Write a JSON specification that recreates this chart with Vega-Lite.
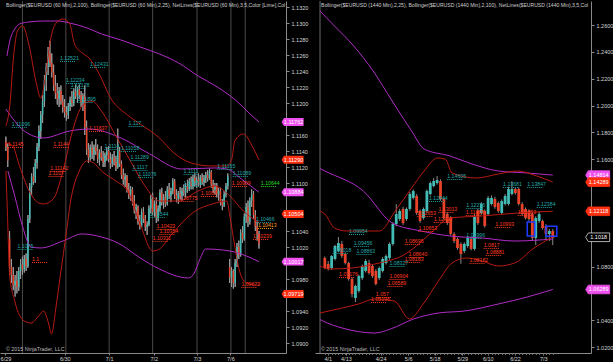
{
"$schema":"https://vega.github.io/schema/vega-lite/v6.json",
"padding":0,
"background":"#000000",
"spacing":29,
"bounds":"flush",
"config":{"view":{"stroke":null},"axis":{"labelColor":"#d6d6d6","labelFont":"Liberation Sans","labelFontSize":5.5,"domainColor":"#8a8a8a","tickColor":"#8a8a8a","grid":false},"text":{"font":"Liberation Sans"}},
"datasets":{
"L":[
{"t":0,"o":1.1152,"h":1.1158,"l":1.114,"c":1.1145},{"t":1,"o":1.1145,"h":1.115,"l":1.112,"c":1.1128},{"t":2,"o":1.103,"h":1.104,"l":1.0985,"c":1.0995},{"t":3,"o":1.0995,"h":1.1005,"l":1.0975,"c":1.0985},{"t":4,"o":1.0985,"h":1.0995,"l":1.0966,"c":1.0972},{"t":5,"o":1.0972,"h":1.0985,"l":1.0958,"c":1.0978},{"t":6,"o":1.0978,"h":1.099,"l":1.0962,"c":1.097},{"t":7,"o":1.097,"h":1.0995,"l":1.0965,"c":1.099},{"t":8,"o":1.099,"h":1.1005,"l":1.098,"c":1.0998},{"t":9,"o":1.0998,"h":1.1008,"l":1.0985,"c":1.0992},
{"t":10,"o":1.0992,"h":1.101,"l":1.0988,"c":1.1005},{"t":11,"o":1.1005,"h":1.1012,"l":1.099,"c":1.0996},{"t":12,"o":1.0996,"h":1.106,"l":1.0994,"c":1.1055},{"t":13,"o":1.1055,"h":1.11,"l":1.105,"c":1.1095},{"t":14,"o":1.1095,"h":1.1112,"l":1.1085,"c":1.1108},{"t":15,"o":1.1108,"h":1.112,"l":1.1098,"c":1.1102},{"t":16,"o":1.1102,"h":1.113,"l":1.11,"c":1.1125},{"t":17,"o":1.1125,"h":1.115,"l":1.1118,"c":1.1145},{"t":18,"o":1.1145,"h":1.1172,"l":1.114,"c":1.1165},{"t":19,"o":1.1165,"h":1.119,"l":1.1155,"c":1.1185},
{"t":20,"o":1.1185,"h":1.121,"l":1.1175,"c":1.1202},{"t":21,"o":1.1202,"h":1.1235,"l":1.1195,"c":1.1228},{"t":22,"o":1.1228,"h":1.125,"l":1.1215,"c":1.1245},{"t":23,"o":1.1245,"h":1.127,"l":1.1235,"c":1.1262},{"t":24,"o":1.1262,"h":1.1278,"l":1.1245,"c":1.125},{"t":25,"o":1.125,"h":1.1262,"l":1.1232,"c":1.1238},{"t":26,"o":1.1238,"h":1.1248,"l":1.1215,"c":1.1222},{"t":27,"o":1.1222,"h":1.1235,"l":1.1205,"c":1.1212},{"t":28,"o":1.1212,"h":1.1225,"l":1.1198,"c":1.1205},{"t":29,"o":1.1205,"h":1.122,"l":1.1195,"c":1.1215},
{"t":30,"o":1.1215,"h":1.1222,"l":1.1198,"c":1.1202},{"t":31,"o":1.1202,"h":1.121,"l":1.1188,"c":1.1195},{"t":32,"o":1.1195,"h":1.1205,"l":1.1182,"c":1.1188},{"t":33,"o":1.1188,"h":1.1196,"l":1.1178,"c":1.1185},{"t":34,"o":1.1185,"h":1.12,"l":1.118,"c":1.1196},{"t":35,"o":1.1196,"h":1.1208,"l":1.119,"c":1.1204},{"t":36,"o":1.1204,"h":1.1215,"l":1.1195,"c":1.12},{"t":37,"o":1.12,"h":1.1218,"l":1.1196,"c":1.1214},{"t":38,"o":1.1214,"h":1.1223,"l":1.1205,"c":1.1208},{"t":39,"o":1.1208,"h":1.122,"l":1.12,"c":1.1217},
{"t":40,"o":1.1217,"h":1.1223,"l":1.1205,"c":1.121},{"t":41,"o":1.121,"h":1.1215,"l":1.1195,"c":1.12},{"t":42,"o":1.12,"h":1.1212,"l":1.119,"c":1.1208},{"t":43,"o":1.1208,"h":1.1222,"l":1.116,"c":1.117},{"t":44,"o":1.117,"h":1.1178,"l":1.1135,"c":1.1142},{"t":45,"o":1.1142,"h":1.115,"l":1.1125,"c":1.1132},{"t":46,"o":1.1132,"h":1.1148,"l":1.1128,"c":1.1144},{"t":47,"o":1.1144,"h":1.1152,"l":1.113,"c":1.1136},{"t":48,"o":1.1136,"h":1.1148,"l":1.1128,"c":1.1145},{"t":49,"o":1.1145,"h":1.1155,"l":1.1135,"c":1.114},
{"t":50,"o":1.114,"h":1.1148,"l":1.1125,"c":1.113},{"t":51,"o":1.113,"h":1.1142,"l":1.1122,"c":1.1138},{"t":52,"o":1.1138,"h":1.1146,"l":1.1128,"c":1.1132},{"t":53,"o":1.1132,"h":1.114,"l":1.112,"c":1.1126},{"t":54,"o":1.1126,"h":1.1138,"l":1.112,"c":1.1135},{"t":55,"o":1.1135,"h":1.1145,"l":1.1128,"c":1.114},{"t":56,"o":1.114,"h":1.1146,"l":1.1126,"c":1.113},{"t":57,"o":1.113,"h":1.1138,"l":1.1118,"c":1.1124},{"t":58,"o":1.1124,"h":1.1136,"l":1.112,"c":1.1132},{"t":59,"o":1.1132,"h":1.114,"l":1.1122,"c":1.1126},
{"t":60,"o":1.1126,"h":1.1134,"l":1.1115,"c":1.112},{"t":61,"o":1.112,"h":1.1168,"l":1.1118,"c":1.114},{"t":62,"o":1.114,"h":1.1145,"l":1.112,"c":1.1124},{"t":63,"o":1.1124,"h":1.1128,"l":1.1105,"c":1.111},{"t":64,"o":1.111,"h":1.1118,"l":1.1098,"c":1.1104},{"t":65,"o":1.1104,"h":1.1112,"l":1.1095,"c":1.1108},{"t":66,"o":1.1108,"h":1.111,"l":1.1088,"c":1.1092},{"t":67,"o":1.1092,"h":1.11,"l":1.108,"c":1.1086},{"t":68,"o":1.1086,"h":1.1096,"l":1.1078,"c":1.1092},{"t":69,"o":1.1092,"h":1.1095,"l":1.1072,"c":1.1078},
{"t":70,"o":1.1078,"h":1.1085,"l":1.1062,"c":1.1066},{"t":71,"o":1.1066,"h":1.1074,"l":1.1055,"c":1.107},{"t":72,"o":1.107,"h":1.1072,"l":1.1048,"c":1.1052},{"t":73,"o":1.1052,"h":1.106,"l":1.1042,"c":1.1046},{"t":74,"o":1.1046,"h":1.1068,"l":1.1044,"c":1.1064},{"t":75,"o":1.1064,"h":1.107,"l":1.105,"c":1.1055},{"t":76,"o":1.1055,"h":1.106,"l":1.104,"c":1.1045},{"t":77,"o":1.1045,"h":1.1052,"l":1.1035,"c":1.1048},{"t":78,"o":1.1048,"h":1.1072,"l":1.1046,"c":1.1068},{"t":79,"o":1.1068,"h":1.1085,"l":1.1062,"c":1.108},
{"t":80,"o":1.108,"h":1.1088,"l":1.106,"c":1.1064},{"t":81,"o":1.1064,"h":1.1078,"l":1.1058,"c":1.1074},{"t":82,"o":1.1074,"h":1.1082,"l":1.105,"c":1.1056},{"t":83,"o":1.1056,"h":1.1072,"l":1.1052,"c":1.1068},{"t":84,"o":1.1068,"h":1.1092,"l":1.1064,"c":1.1088},{"t":85,"o":1.1088,"h":1.1094,"l":1.1072,"c":1.1076},{"t":86,"o":1.1076,"h":1.1086,"l":1.1068,"c":1.1082},{"t":87,"o":1.1082,"h":1.109,"l":1.107,"c":1.1074},{"t":88,"o":1.1074,"h":1.1096,"l":1.1072,"c":1.1092},{"t":89,"o":1.1092,"h":1.11,"l":1.108,"c":1.1084},
{"t":90,"o":1.1084,"h":1.1094,"l":1.1076,"c":1.109},{"t":91,"o":1.109,"h":1.1106,"l":1.1086,"c":1.1102},{"t":92,"o":1.1102,"h":1.1105,"l":1.108,"c":1.1085},{"t":93,"o":1.1085,"h":1.1092,"l":1.1076,"c":1.108},{"t":94,"o":1.108,"h":1.109,"l":1.1074,"c":1.1087},{"t":95,"o":1.1087,"h":1.1095,"l":1.108,"c":1.1084},{"t":96,"o":1.1084,"h":1.1094,"l":1.1078,"c":1.109},{"t":97,"o":1.109,"h":1.1098,"l":1.1084,"c":1.1088},{"t":98,"o":1.1088,"h":1.11,"l":1.1082,"c":1.1096},{"t":99,"o":1.1096,"h":1.1104,"l":1.1088,"c":1.1092},
{"t":100,"o":1.1092,"h":1.1106,"l":1.109,"c":1.1102},{"t":101,"o":1.1102,"h":1.1108,"l":1.1092,"c":1.1096},{"t":102,"o":1.1096,"h":1.111,"l":1.1092,"c":1.1106},{"t":103,"o":1.1106,"h":1.1112,"l":1.1096,"c":1.11},{"t":104,"o":1.11,"h":1.1108,"l":1.1094,"c":1.1104},{"t":105,"o":1.1104,"h":1.1112,"l":1.1096,"c":1.1098},{"t":106,"o":1.1098,"h":1.111,"l":1.1094,"c":1.1107},{"t":107,"o":1.1107,"h":1.1112,"l":1.1098,"c":1.1101},{"t":108,"o":1.1101,"h":1.111,"l":1.1096,"c":1.1106},{"t":109,"o":1.1106,"h":1.1114,"l":1.11,"c":1.111},
{"t":110,"o":1.111,"h":1.1116,"l":1.1102,"c":1.1106},{"t":111,"o":1.1106,"h":1.1118,"l":1.1104,"c":1.1114},{"t":112,"o":1.1114,"h":1.1116,"l":1.1094,"c":1.1098},{"t":113,"o":1.1098,"h":1.1104,"l":1.1088,"c":1.1092},{"t":114,"o":1.1092,"h":1.11,"l":1.1086,"c":1.1096},{"t":115,"o":1.1096,"h":1.11,"l":1.1082,"c":1.1086},{"t":116,"o":1.1086,"h":1.1094,"l":1.1078,"c":1.109},{"t":117,"o":1.109,"h":1.1094,"l":1.1072,"c":1.1076},{"t":118,"o":1.1076,"h":1.108,"l":1.1066,"c":1.1072},{"t":119,"o":1.1072,"h":1.109,"l":1.107,"c":1.1086},
{"t":120,"o":1.1086,"h":1.11,"l":1.1082,"c":1.1096},{"t":121,"o":1.1096,"h":1.1112,"l":1.1092,"c":1.1108},{"t":122,"o":1.0995,"h":1.1005,"l":1.0975,"c":1.0982},{"t":123,"o":1.0982,"h":1.0995,"l":1.097,"c":1.099},{"t":124,"o":1.099,"h":1.0992,"l":1.0968,"c":1.0975},{"t":125,"o":1.0975,"h":1.1005,"l":1.097,"c":1.1},{"t":126,"o":1.1,"h":1.1025,"l":1.0995,"c":1.102},{"t":127,"o":1.102,"h":1.1028,"l":1.1005,"c":1.101},{"t":128,"o":1.101,"h":1.1042,"l":1.1008,"c":1.1038},{"t":129,"o":1.1038,"h":1.1046,"l":1.1025,"c":1.103},
{"t":130,"o":1.103,"h":1.1062,"l":1.1028,"c":1.1058},{"t":131,"o":1.1058,"h":1.1075,"l":1.105,"c":1.107},{"t":132,"o":1.107,"h":1.1078,"l":1.1045,"c":1.1052},{"t":133,"o":1.1052,"h":1.1082,"l":1.1048,"c":1.1078},{"t":134,"o":1.1078,"h":1.1092,"l":1.107,"c":1.1086},{"t":135,"o":1.1086,"h":1.109,"l":1.1055,"c":1.106},{"t":136,"o":1.106,"h":1.1066,"l":1.104,"c":1.1046},{"t":137,"o":1.1046,"h":1.1052,"l":1.1028,"c":1.1036},{"t":138,"o":1.1036,"h":1.104,"l":1.1018,"c":1.1024}
],
"R":[
{"t":0,"o":1.0864,"h":1.0875,"l":1.078,"c":1.0789},{"t":1,"o":1.0819,"h":1.084,"l":1.077,"c":1.0781},{"t":2,"o":1.0789,"h":1.0885,"l":1.0775,"c":1.0878},{"t":3,"o":1.0856,"h":1.0962,"l":1.0845,"c":1.0953},{"t":4,"o":1.0916,"h":1.102,"l":1.0905,"c":1.0975},{"t":5,"o":1.0968,"h":1.099,"l":1.0865,"c":1.0878},{"t":6,"o":1.0893,"h":1.0905,"l":1.0815,"c":1.0826},{"t":7,"o":1.0826,"h":1.0835,"l":1.0695,"c":1.0707},{"t":8,"o":1.0707,"h":1.072,"l":1.057,"c":1.0595},{"t":9,"o":1.0565,"h":1.0665,"l":1.0535,"c":1.0655},
{"t":10,"o":1.0618,"h":1.074,"l":1.0605,"c":1.0729},{"t":11,"o":1.0714,"h":1.0815,"l":1.07,"c":1.0804},{"t":12,"o":1.0767,"h":1.0855,"l":1.0755,"c":1.0841},{"t":13,"o":1.0826,"h":1.085,"l":1.074,"c":1.0752},{"t":14,"o":1.0804,"h":1.0815,"l":1.0715,"c":1.0729},{"t":15,"o":1.0767,"h":1.078,"l":1.066,"c":1.067},{"t":16,"o":1.0714,"h":1.08,"l":1.07,"c":1.0789},{"t":17,"o":1.0767,"h":1.087,"l":1.0755,"c":1.0856},{"t":18,"o":1.0826,"h":1.089,"l":1.0815,"c":1.0878},{"t":19,"o":1.0864,"h":1.098,"l":1.085,"c":1.0968},
{"t":20,"o":1.0968,"h":1.113,"l":1.0955,"c":1.1117},{"t":21,"o":1.1117,"h":1.1265,"l":1.11,"c":1.1191},{"t":22,"o":1.1154,"h":1.123,"l":1.114,"c":1.1214},{"t":23,"o":1.1229,"h":1.1245,"l":1.111,"c":1.1124},{"t":24,"o":1.1154,"h":1.124,"l":1.114,"c":1.1229},{"t":25,"o":1.1229,"h":1.1355,"l":1.1215,"c":1.134},{"t":26,"o":1.1311,"h":1.1375,"l":1.13,"c":1.1363},{"t":27,"o":1.1326,"h":1.134,"l":1.1185,"c":1.1199},{"t":28,"o":1.1214,"h":1.1225,"l":1.1125,"c":1.1139},{"t":29,"o":1.1162,"h":1.124,"l":1.115,"c":1.1229},
{"t":30,"o":1.1214,"h":1.1375,"l":1.12,"c":1.1363},{"t":31,"o":1.134,"h":1.1435,"l":1.133,"c":1.1422},{"t":32,"o":1.14,"h":1.146,"l":1.139,"c":1.1437},{"t":33,"o":1.1422,"h":1.1475,"l":1.141,"c":1.1445},{"t":34,"o":1.1437,"h":1.145,"l":1.129,"c":1.1303},{"t":35,"o":1.1303,"h":1.1315,"l":1.115,"c":1.1162},{"t":36,"o":1.1191,"h":1.1205,"l":1.111,"c":1.1124},{"t":37,"o":1.1162,"h":1.1175,"l":1.103,"c":1.1042},{"t":38,"o":1.1042,"h":1.1055,"l":1.0975,"c":1.099},{"t":39,"o":1.1005,"h":1.1015,"l":1.0925,"c":1.0938},
{"t":40,"o":1.0968,"h":1.098,"l":1.082,"c":1.0893},{"t":41,"o":1.0916,"h":1.098,"l":1.09,"c":1.0968},{"t":42,"o":1.0953,"h":1.1025,"l":1.094,"c":1.1013},{"t":43,"o":1.1005,"h":1.102,"l":1.092,"c":1.0931},{"t":44,"o":1.0931,"h":1.119,"l":1.092,"c":1.1176},{"t":45,"o":1.1214,"h":1.123,"l":1.111,"c":1.1124},{"t":46,"o":1.1199,"h":1.128,"l":1.1185,"c":1.1266},{"t":47,"o":1.1214,"h":1.1225,"l":1.109,"c":1.1102},{"t":48,"o":1.1191,"h":1.1325,"l":1.118,"c":1.1311},{"t":49,"o":1.1266,"h":1.133,"l":1.1255,"c":1.1311},
{"t":50,"o":1.1303,"h":1.132,"l":1.123,"c":1.1244},{"t":51,"o":1.1273,"h":1.1285,"l":1.12,"c":1.1214},{"t":52,"o":1.1199,"h":1.13,"l":1.1185,"c":1.1288},{"t":53,"o":1.1266,"h":1.134,"l":1.1255,"c":1.1326},{"t":54,"o":1.1266,"h":1.1395,"l":1.1255,"c":1.1378},{"t":55,"o":1.134,"h":1.1435,"l":1.133,"c":1.1378},{"t":56,"o":1.1378,"h":1.139,"l":1.1335,"c":1.1348},{"t":57,"o":1.1378,"h":1.139,"l":1.1255,"c":1.1266},{"t":58,"o":1.1266,"h":1.128,"l":1.118,"c":1.1191},{"t":59,"o":1.1229,"h":1.124,"l":1.115,"c":1.1162},
{"t":60,"o":1.1214,"h":1.1225,"l":1.114,"c":1.1154},{"t":61,"o":1.1191,"h":1.1205,"l":1.099,"c":1.1013},{"t":62,"o":1.1013,"h":1.1175,"l":1.096,"c":1.1162},{"t":63,"o":1.1139,"h":1.121,"l":1.1125,"c":1.1191},{"t":64,"o":1.1139,"h":1.115,"l":1.1075,"c":1.1087},{"t":65,"o":1.1102,"h":1.1115,"l":1.1,"c":1.1042},{"t":66,"o":1.1042,"h":1.108,"l":1.099,"c":1.1065},{"t":67,"o":1.1065,"h":1.108,"l":1.096,"c":1.1013}
],
"LB":[
{"b":"pu","t":0.55,"v":1.12588},{"b":"pu","t":2.1,"v":1.12775},{"b":"pu","t":4.8,"v":1.12925},{"b":"pu","t":7.4,"v":1.12988},{"b":"pu","t":12.7,"v":1.13013},{"b":"pu","t":20.5,"v":1.13025},{"b":"pu","t":28.4,"v":1.13025},{"b":"pu","t":34.8,"v":1.13},{"b":"pu","t":44.2,"v":1.12938},{"b":"pu","t":52.1,"v":1.12863},{"b":"pu","t":62.7,"v":1.12788},{"b":"pu","t":73.2,"v":1.127},{"b":"pu","t":83.7,"v":1.12613},{"b":"pu","t":94.2,"v":1.125},{"b":"pu","t":104.8,"v":1.12338},{"b":"pu","t":115.3,"v":1.122},{"b":"pu","t":125.8,"v":1.12025},{"b":"pu","t":133.7,"v":1.1185},{"b":"pu","t":138,"v":1.11762},
{"b":"pm","t":0,"v":1.11925},{"b":"pm","t":10,"v":1.1165},{"b":"pm","t":20.5,"v":1.11563},{"b":"pm","t":34.8,"v":1.1165},{"b":"pm","t":45.3,"v":1.11675},{"b":"pm","t":62.7,"v":1.11563},{"b":"pm","t":78.4,"v":1.11363},{"b":"pm","t":95.8,"v":1.11175},{"b":"pm","t":113.7,"v":1.11188},{"b":"pm","t":120.5,"v":1.11175},{"b":"pm","t":128.4,"v":1.1105},{"b":"pm","t":138,"v":1.10884},
{"b":"pl","t":1.1,"v":1.1115},{"b":"pl","t":4.8,"v":1.10838},{"b":"pl","t":9,"v":1.10463},{"b":"pl","t":13.7,"v":1.102},{"b":"pl","t":19,"v":1.10188},{"b":"pl","t":31.1,"v":1.10275},{"b":"pl","t":41.6,"v":1.10363},{"b":"pl","t":52.1,"v":1.10325},{"b":"pl","t":61.1,"v":1.1025},{"b":"pl","t":73.2,"v":1.10063},{"b":"pl","t":83.7,"v":1.09925},{"b":"pl","t":99.5,"v":1.09813},{"b":"pl","t":102.7,"v":1.09875},{"b":"pl","t":105.8,"v":1.1005},{"b":"pl","t":109,"v":1.10175},{"b":"pl","t":122.1,"v":1.1015},{"b":"pl","t":131.1,"v":1.10088},{"b":"pl","t":138,"v":1.10017},
{"b":"ru","t":0,"v":1.11713},{"b":"ru","t":2.1,"v":1.11963},{"b":"ru","t":4.2,"v":1.12588},{"b":"ru","t":6.3,"v":1.129},{"b":"ru","t":9,"v":1.12963},{"b":"ru","t":12.7,"v":1.12713},{"b":"ru","t":16.3,"v":1.12275},{"b":"ru","t":19,"v":1.12063},{"b":"ru","t":21.6,"v":1.12338},{"b":"ru","t":24.2,"v":1.12775},{"b":"ru","t":27.4,"v":1.13},{"b":"ru","t":31.1,"v":1.1305},{"b":"ru","t":34.8,"v":1.12988},{"b":"ru","t":37.4,"v":1.12738},{"b":"ru","t":41.6,"v":1.12625},{"b":"ru","t":45.3,"v":1.12563},{"b":"ru","t":50.6,"v":1.12375},{"b":"ru","t":57.4,"v":1.1205},{"b":"ru","t":66.3,"v":1.1185},{"b":"ru","t":73.2,"v":1.11738},{"b":"ru","t":83.7,"v":1.11563},{"b":"ru","t":91.6,"v":1.11375},{"b":"ru","t":101.1,"v":1.1125},{"b":"ru","t":111.6,"v":1.11213},{"b":"ru","t":120.5,"v":1.11213},{"b":"ru","t":123.2,"v":1.113},{"b":"ru","t":124.8,"v":1.11525},{"b":"ru","t":129.5,"v":1.11613},{"b":"ru","t":134.8,"v":1.11438},{"b":"ru","t":138,"v":1.1129},
{"b":"rm","t":0,"v":1.115},{"b":"rm","t":3.7,"v":1.11463},{"b":"rm","t":7.4,"v":1.11213},{"b":"rm","t":12.7,"v":1.109},{"b":"rm","t":17.9,"v":1.1075},{"b":"rm","t":20.5,"v":1.10738},{"b":"rm","t":25.8,"v":1.108},{"b":"rm","t":31.1,"v":1.1115},{"b":"rm","t":36.3,"v":1.1165},{"b":"rm","t":41.6,"v":1.11963},{"b":"rm","t":46.9,"v":1.12025},{"b":"rm","t":52.1,"v":1.119},{"b":"rm","t":60,"v":1.11588},{"b":"rm","t":67.9,"v":1.11275},{"b":"rm","t":75.8,"v":1.10963},{"b":"rm","t":83.7,"v":1.10775},{"b":"rm","t":94.2,"v":1.10775},{"b":"rm","t":104.8,"v":1.109},{"b":"rm","t":113.7,"v":1.10963},{"b":"rm","t":122.1,"v":1.10838},{"b":"rm","t":129.5,"v":1.1065},{"b":"rm","t":138,"v":1.10504},
{"b":"rl","t":0,"v":1.1115},{"b":"rl","t":0.6,"v":1.10775},{"b":"rl","t":2.1,"v":1.09838},{"b":"rl","t":4.8,"v":1.09525},{"b":"rl","t":10,"v":1.09275},{"b":"rl","t":13.7,"v":1.0925},{"b":"rl","t":17.9,"v":1.09338},{"b":"rl","t":20.5,"v":1.094},{"b":"rl","t":23.2,"v":1.0925},{"b":"rl","t":24.8,"v":1.09113},{"b":"rl","t":27.4,"v":1.09463},{"b":"rl","t":30,"v":1.099},{"b":"rl","t":32.7,"v":1.10338},{"b":"rl","t":35.3,"v":1.10775},{"b":"rl","t":40,"v":1.1115},{"b":"rl","t":44.2,"v":1.11275},{"b":"rl","t":47.9,"v":1.1125},{"b":"rl","t":52.1,"v":1.1115},{"b":"rl","t":60,"v":1.11025},{"b":"rl","t":66.3,"v":1.109},{"b":"rl","t":73.2,"v":1.10488},{"b":"rl","t":80,"v":1.1015},{"b":"rl","t":83.7,"v":1.10175},{"b":"rl","t":90.6,"v":1.10363},{"b":"rl","t":103.2,"v":1.1065},{"b":"rl","t":112.7,"v":1.10738},{"b":"rl","t":120.5,"v":1.10775},{"b":"rl","t":122.1,"v":1.10588},{"b":"rl","t":124.8,"v":1.10213},{"b":"rl","t":127.4,"v":1.099},{"b":"rl","t":131.1,"v":1.0975},{"b":"rl","t":138,"v":1.09719}
],
"RB":[
{"b":"pu","t":-1.42,"v":1.27044},{"b":"pu","t":2.83,"v":1.25926},{"b":"pu","t":8.5,"v":1.24435},{"b":"pu","t":14.2,"v":1.22572},{"b":"pu","t":19.8,"v":1.20336},{"b":"pu","t":25.5,"v":1.181},{"b":"pu","t":29.2,"v":1.16758},{"b":"pu","t":36.8,"v":1.16237},{"b":"pu","t":43.3,"v":1.1564},{"b":"pu","t":51,"v":1.15119},{"b":"pu","t":59.5,"v":1.1497},{"b":"pu","t":67,"v":1.14814},
{"b":"pm","t":-1.42,"v":1.153},{"b":"pm","t":0,"v":1.15119},{"b":"pm","t":11.3,"v":1.13628},{"b":"pm","t":19.8,"v":1.11243},{"b":"pm","t":28.3,"v":1.10647},{"b":"pm","t":36.8,"v":1.10274},{"b":"pm","t":46.2,"v":1.10125},{"b":"pm","t":55.8,"v":1.09901},{"b":"pm","t":67,"v":1.1005},
{"b":"pl","t":-1.42,"v":1.0405},{"b":"pl","t":-0.57,"v":1.03938},{"b":"pl","t":5.1,"v":1.03417},{"b":"pl","t":14.7,"v":1.03044},{"b":"pl","t":19.3,"v":1.03343},{"b":"pl","t":26.1,"v":1.04088},{"b":"pl","t":33.4,"v":1.04535},{"b":"pl","t":41.1,"v":1.04684},{"b":"pl","t":51,"v":1.05206},{"b":"pl","t":59.5,"v":1.05728},{"b":"pl","t":67,"v":1.06289},
{"b":"ru","t":-1.42,"v":1.12137},{"b":"ru","t":0,"v":1.11914},{"b":"ru","t":2.83,"v":1.10871},{"b":"ru","t":6.5,"v":1.10647},{"b":"ru","t":16.1,"v":1.10647},{"b":"ru","t":20.7,"v":1.12137},{"b":"ru","t":25.5,"v":1.13851},{"b":"ru","t":29.2,"v":1.15119},{"b":"ru","t":33.1,"v":1.16087},{"b":"ru","t":35.4,"v":1.16013},{"b":"ru","t":37.4,"v":1.1497},{"b":"ru","t":44.5,"v":1.14597},{"b":"ru","t":51,"v":1.14895},{"b":"ru","t":56.7,"v":1.15119},{"b":"ru","t":62.3,"v":1.14746},{"b":"ru","t":67,"v":1.14289},
{"b":"rm","t":-1.42,"v":1.08038},{"b":"rm","t":1.42,"v":1.07814},{"b":"rm","t":7.9,"v":1.07889},{"b":"rm","t":14.7,"v":1.08187},{"b":"rm","t":18.4,"v":1.08411},{"b":"rm","t":22.7,"v":1.08784},{"b":"rm","t":26.9,"v":1.09529},{"b":"rm","t":31.2,"v":1.10498},{"b":"rm","t":36.8,"v":1.11616},{"b":"rm","t":46.2,"v":1.11765},{"b":"rm","t":56.7,"v":1.11989},{"b":"rm","t":67,"v":1.12118},
{"b":"rl","t":-1.42,"v":1.04535},{"b":"rl","t":5.1,"v":1.04908},{"b":"rl","t":9.9,"v":1.05206},{"b":"rl","t":14.7,"v":1.05579},{"b":"rl","t":20.4,"v":1.05429},{"b":"rl","t":24.9,"v":1.04088},{"b":"rl","t":28.9,"v":1.05206},{"b":"rl","t":33.4,"v":1.0692},{"b":"rl","t":37.4,"v":1.08262},{"b":"rl","t":41.6,"v":1.08635},{"b":"rl","t":46.2,"v":1.08411},{"b":"rl","t":51,"v":1.08038},{"b":"rl","t":55.8,"v":1.08262},{"b":"rl","t":61.5,"v":1.0938},{"b":"rl","t":67,"v":1.10199}
],
"LL":[
{"t":29.5,"p":1.12563,"s":"1.12521","k":"t"},{"t":45.8,"p":1.12488,"s":"1.12431","k":"t"},{"t":32.7,"p":1.12288,"s":"1.12234","k":"t"},{"t":35.3,"p":1.12225,"s":"1.12178","k":"t"},{"t":39,"p":1.1205,"s":"1.11895","k":"t"},{"t":3.2,"p":1.11738,"s":"1.11096","k":"t"},{"t":66.9,"p":1.1175,"s":"1.117","k":"t"},{"t":53.7,"p":1.11463,"s":"1.1114","k":"t"},{"t":62.7,"p":1.11438,"s":"1.11058","k":"t"},{"t":67.9,"p":1.11325,"s":"1.11289","k":"t"},{"t":69,"p":1.112,"s":"1.1117","k":"t"},{"t":72.1,"p":1.11113,"s":"1.11076","k":"t"},{"t":96.9,"p":1.1115,"s":"1.1111","k":"t"},{"t":115.3,"p":1.11213,"s":"1.11165","k":"t"},{"t":123.7,"p":1.11125,"s":"1.11089","k":"t"},{"t":96.9,"p":1.11,"s":"1.10961","k":"t"},{"t":78.4,"p":1.10613,"s":"1.10544","k":"t"},{"t":136.3,"p":1.1055,"s":"1.10466","k":"t"},{"t":6.3,"p":1.10213,"s":"1.1075","k":"t"},
{"t":1.1,"p":1.11488,"s":"1.1145","k":"r"},{"t":25.8,"p":1.11488,"s":"1.1144","k":"r"},{"t":45.3,"p":1.11688,"s":"1.11637","k":"r"},{"t":24.2,"p":1.11188,"s":"1.11142","k":"r"},{"t":23.2,"p":1.11125,"s":"1.1107","k":"r"},{"t":123.2,"p":1.11,"s":"1.10909","k":"r"},{"t":106.3,"p":1.10875,"s":"1.1082","k":"r"},{"t":94.2,"p":1.10813,"s":"1.10775","k":"r"},{"t":82.1,"p":1.10463,"s":"1.10423","k":"r"},{"t":83.7,"p":1.104,"s":"1.10354","k":"r"},{"t":80,"p":1.10313,"s":"1.10311","k":"r"},{"t":134.8,"p":1.10338,"s":"1.10239","k":"r"},{"t":128.4,"p":1.09738,"s":"1.09679","k":"r"},{"t":14.2,"p":1.1005,"s":"1.1","k":"r"},
{"t":139,"p":1.11,"s":"1.10644","k":"g"},{"t":137.4,"p":1.10475,"s":"1.10413","k":"o"}
],
"RL":[
{"t":36,"p":1.14746,"s":"1.14605","k":"t"},{"t":30.6,"p":1.13106,"s":"1.12844","k":"t"},{"t":52.4,"p":1.1415,"s":"1.13681","k":"t"},{"t":59.5,"p":1.1415,"s":"1.13847","k":"t"},{"t":62.3,"p":1.12659,"s":"1.12384","k":"t"},{"t":41.6,"p":1.12584,"s":"1.12275","k":"t"},{"t":7.1,"p":1.10647,"s":"1.09954","k":"t"},{"t":8.5,"p":1.09752,"s":"1.09456","k":"t"},{"t":9.3,"p":1.09156,"s":"1.08863","k":"t"},{"t":2.3,"p":1.0923,"s":"1.09018","k":"t"},{"t":19,"p":1.08262,"s":"1.08327","k":"t"},{"t":41.6,"p":1.1035,"s":"1.09996","k":"t"},
{"t":33.4,"p":1.12286,"s":"1.13013","k":"r"},{"t":27.2,"p":1.11988,"s":"1.12653","k":"r"},{"t":32,"p":1.11541,"s":"1.12493","k":"r"},{"t":27.5,"p":1.1087,"s":"1.10653","k":"r"},{"t":23.5,"p":1.09901,"s":"1.08695","k":"r"},{"t":24.6,"p":1.08933,"s":"1.08640","k":"r"},{"t":23.5,"p":1.0856,"s":"1.08183","k":"r"},{"t":4.2,"p":1.07442,"s":"1.07176","k":"r"},{"t":19,"p":1.07293,"s":"1.06904","k":"r"},{"t":18.4,"p":1.06771,"s":"1.06589","k":"r"},{"t":15,"p":1.05951,"s":"1.057","k":"r"},{"t":13.6,"p":1.05579,"s":"1.05196","k":"r"},{"t":41.4,"p":1.12063,"s":"1.11889","k":"r"},{"t":56.7,"p":1.12063,"s":"1.11553","k":"r"},{"t":50.1,"p":1.11168,"s":"1.10993","k":"r"},{"t":46.7,"p":1.09603,"s":"1.0817","k":"r"},{"t":47.3,"p":1.09082,"s":"1.08881","k":"r"},{"t":42.5,"p":1.08486,"s":"1.08182","k":"r"}
],
"LT":[{"p":1.11762,"s":"1.11762","k":"p"},{"p":1.1129,"s":"1.11290","k":"r"},{"p":1.10884,"s":"1.10884","k":"p"},{"p":1.10613,"s":"1.10504","k":"r"},{"p":1.10017,"s":"1.10017","k":"p"},{"p":1.09613,"s":"1.09719","k":"r"}],
"RT":[{"p":1.14814,"s":"1.14814","k":"p"},{"p":1.14289,"s":"1.14289","k":"r"},{"p":1.12118,"s":"1.12118","k":"r"},{"p":1.1018,"s":"1.1018","k":"b"},{"p":1.06289,"s":"1.06289","k":"p"}]
},
"hconcat":[
{
"width":286,"height":352,
"resolve":{"axis":{"x":"independent","y":"independent"}},
"layer":[
{"data":{"name":"L"},"mark":{"type":"rule","color":"#9a9a9a","strokeWidth":1},
 "encoding":{
  "x":{"field":"t","type":"quantitative","scale":{"domain":[-0.5,150],"nice":false,"zero":false},
   "axis":{"title":null,"values":[-0.24,32.1,56.3,80.6,104.2,122.4],"labelExpr":"datum.value < 10 ? '6/29' : datum.value < 40 ? '6/30' : datum.value < 60 ? '7/1' : datum.value < 90 ? '7/2' : datum.value < 110 ? '7/3' : '7/6'","tickSize":2,"labelPadding":1,"labelFlush":2,"labelOverlap":false,"labelBound":false}},
  "y":{"field":"l","type":"quantitative","scale":{"domain":[1.08875,1.13275],"nice":false,"zero":false},
   "axis":{"title":null,"orient":"right","values":[1.09,1.092,1.094,1.098,1.102,1.104,1.11,1.112,1.114,1.116,1.12,1.122,1.124,1.126,1.128,1.13,1.132],"format":".4f","tickSize":3,"labelPadding":2,"labelOverlap":false,"labelBound":false,"labelFlush":false}},
  "y2":{"field":"h"}}},
{"data":{"values":[{"t":9},{"t":32.7},{"t":56.3},{"t":80},{"t":104.2},{"t":122.7},{"t":130.5}]},
 "mark":{"type":"rule","color":"#4a4a4a","strokeWidth":1},
 "encoding":{"x":{"field":"t","type":"quantitative","scale":{"domain":[-0.5,150],"nice":false,"zero":false},"axis":null}}},
{"data":{"name":"L"},"mark":{"type":"rule","color":"#9a9a9a","strokeWidth":1},
 "encoding":{
  "x":{"field":"t","type":"quantitative","scale":{"domain":[-0.5,150],"nice":false,"zero":false},"axis":null},
  "y":{"field":"l","type":"quantitative","scale":{"domain":[1.08875,1.13275],"nice":false,"zero":false},"axis":null},
  "y2":{"field":"h"}}},
{"data":{"name":"L"},"mark":{"type":"bar","size":1.5},
 "encoding":{
  "x":{"field":"t","type":"quantitative","scale":{"domain":[-0.5,150],"nice":false,"zero":false},"axis":null},
  "y":{"field":"o","type":"quantitative","scale":{"domain":[1.08875,1.13275],"nice":false,"zero":false},"axis":null},
  "y2":{"field":"c"},
  "color":{"condition":{"test":"datum.c >= datum.o","value":"#42bcb4"},"value":"#e8432a"}}},
{"data":{"name":"LB"},"mark":{"type":"line","strokeWidth":1,"interpolate":"monotone"},
 "encoding":{
  "x":{"field":"t","type":"quantitative","scale":{"domain":[-0.5,150],"nice":false,"zero":false},"axis":null},
  "y":{"field":"v","type":"quantitative","scale":{"domain":[1.08875,1.13275],"nice":false,"zero":false},"axis":null},
  "detail":{"field":"b"},
  "color":{"condition":{"test":"indexof(datum.b,'p') == 0","value":"#b02cc6"},"value":"#b81a12"}}},
{"data":{"name":"LL"},"mark":{"type":"rule","strokeDash":[1,1],"strokeWidth":1,"x2Offset":15,"yOffset":3.5},
 "encoding":{
  "x":{"field":"t","type":"quantitative","scale":{"domain":[-0.5,150],"nice":false,"zero":false},"axis":null},
  "x2":{"field":"t"},
  "y":{"field":"p","type":"quantitative","scale":{"domain":[1.08875,1.13275],"nice":false,"zero":false},"axis":null},
  "color":{"condition":[{"test":"datum.k=='t'","value":"#1f9e9e"},{"test":"datum.k=='g'","value":"#22dd22"},{"test":"datum.k=='o'","value":"#ff9a1a"}],"value":"#ff3a22"}}},
{"data":{"name":"LL"},"mark":{"type":"text","align":"left","baseline":"middle","fontSize":5.2},
 "encoding":{
  "x":{"field":"t","type":"quantitative","scale":{"domain":[-0.5,150],"nice":false,"zero":false},"axis":null},
  "y":{"field":"p","type":"quantitative","scale":{"domain":[1.08875,1.13275],"nice":false,"zero":false},"axis":null},
  "text":{"field":"s"},
  "color":{"condition":[{"test":"datum.k=='t'","value":"#22a8a8"},{"test":"datum.k=='g'","value":"#22dd22"},{"test":"datum.k=='o'","value":"#ff9a1a"}],"value":"#ff3a22"}}},
{"data":{"name":"LT"},"mark":{"type":"point","shape":"M-1,0L-0.78,-0.36H1V0.36H-0.78Z","size":484,"filled":true,"opacity":1,"strokeWidth":0},
 "encoding":{
  "x":{"datum":156.3,"type":"quantitative","scale":{"domain":[-0.5,150],"nice":false,"zero":false},"axis":null},
  "y":{"field":"p","type":"quantitative","scale":{"domain":[1.08875,1.13275],"nice":false,"zero":false},"axis":null},
  "fill":{"condition":{"test":"datum.k=='p'","value":"#f050f0"},"value":"#ff3010"}}},
{"data":{"name":"LT"},"mark":{"type":"text","align":"center","baseline":"middle","fontSize":5.5,"color":"#ffffff","dx":1},
 "encoding":{
  "x":{"datum":156.3,"type":"quantitative","scale":{"domain":[-0.5,150],"nice":false,"zero":false},"axis":null},
  "y":{"field":"p","type":"quantitative","scale":{"domain":[1.08875,1.13275],"nice":false,"zero":false},"axis":null},
  "text":{"field":"s"}}},
{"data":{"values":[{"s":"Bollinger($EURUSD (60 Min),2,100), Bollinger($EURUSD (60 Min),2,25), NetLines($EURUSD (60 Min),3,5,Color [Lime],Col"}]},
 "mark":{"type":"text","align":"left","baseline":"top","dx":1,"dy":2,"fontSize":5.1,"color":"#cfcfcf"},
 "encoding":{
  "x":{"datum":-0.5,"type":"quantitative","scale":{"domain":[-0.5,150],"nice":false,"zero":false},"axis":null},
  "y":{"datum":1.13275,"type":"quantitative","scale":{"domain":[1.08875,1.13275],"nice":false,"zero":false},"axis":null},
  "text":{"field":"s"}}},
{"data":{"values":[{"s":"© 2015 NinjaTrader, LLC"}]},
 "mark":{"type":"text","align":"left","baseline":"bottom","dx":1,"dy":-1,"fontSize":5.3,"color":"#bdbdbd"},
 "encoding":{
  "x":{"datum":-0.5,"type":"quantitative","scale":{"domain":[-0.5,150],"nice":false,"zero":false},"axis":null},
  "y":{"datum":1.08875,"type":"quantitative","scale":{"domain":[1.08875,1.13275],"nice":false,"zero":false},"axis":null},
  "text":{"field":"s"}}}
]
},
{
"width":276,"height":352,
"resolve":{"axis":{"x":"independent","y":"independent"}},
"layer":[
{"data":{"name":"R"},"mark":{"type":"rule","color":"#8a8a8a","strokeWidth":1},
 "encoding":{
  "x":{"field":"t","type":"quantitative","scale":{"domain":[-1.416,76.77],"nice":false,"zero":false},
   "axis":{"title":null,"orient":"bottom","values":[0.85,6.2,16.4,24.5,32.3,40.4,47.9,55.9,64.2],"labelExpr":"datum.value < 3 ? '4/1' : datum.value < 10 ? '4/13' : datum.value < 20 ? '4/24' : datum.value < 28 ? '5/6' : datum.value < 36 ? '5/18' : datum.value < 44 ? '5/29' : datum.value < 52 ? '6/10' : datum.value < 60 ? '6/22' : '7/3'","tickSize":2,"labelPadding":1,"labelFlush":false,"labelOverlap":false,"labelBound":false}},
  "y":{"field":"l","type":"quantitative","scale":{"domain":[1.01554,1.27789],"nice":false,"zero":false},
   "axis":{"title":null,"orient":"right","values":[1.02,1.04,1.08,1.16,1.18,1.2,1.22,1.24,1.26],"format":".4f","tickSize":3,"labelPadding":2,"labelOverlap":false,"labelBound":false,"labelFlush":false}},
  "y2":{"field":"h"}}},
{"data":{"values":[{"t":-1.41}]},
 "mark":{"type":"rule","color":"#6a6a6a","strokeWidth":1},
 "encoding":{"x":{"field":"t","type":"quantitative","scale":{"domain":[-1.416,76.77],"nice":false,"zero":false},
   "axis":{"title":null,"orient":"bottom","values":[0,1,2,3,4,5,6,7,8,9,10,11,12,13,14,15,16,17,18,19,20,21,22,23,24,25,26,27,28,29,30,31,32,33,34,35,36,37,38,39,40,41,42,43,44,45,46,47,48,49,50,51,52,53,54,55,56,57,58,59,60,61,62,63,64,65,66,67],"labels":false,"domain":false,"tickSize":1.5,"tickColor":"#6a6a6a"}}}},
{"data":{"name":"R"},"mark":{"type":"bar","size":2.8},
 "encoding":{
  "x":{"field":"t","type":"quantitative","scale":{"domain":[-1.416,76.77],"nice":false,"zero":false},"axis":null},
  "y":{"field":"o","type":"quantitative","scale":{"domain":[1.01554,1.27789],"nice":false,"zero":false},"axis":null},
  "y2":{"field":"c"},
  "color":{"condition":{"test":"datum.c >= datum.o","value":"#42bcb4"},"value":"#e8432a"}}},
{"data":{"name":"RB"},"mark":{"type":"line","strokeWidth":1,"interpolate":"monotone"},
 "encoding":{
  "x":{"field":"t","type":"quantitative","scale":{"domain":[-1.416,76.77],"nice":false,"zero":false},"axis":null},
  "y":{"field":"v","type":"quantitative","scale":{"domain":[1.01554,1.27789],"nice":false,"zero":false},"axis":null},
  "detail":{"field":"b"},
  "color":{"condition":{"test":"indexof(datum.b,'p') == 0","value":"#b02cc6"},"value":"#b81a12"}}},
{"data":{"values":[{"t1":59.5,"t2":61.7,"p1":1.1132,"p2":1.1027},{"t1":65,"t2":68.2,"p1":1.11,"p2":1.1025}]},
 "mark":{"type":"rect","fill":null,"stroke":"#1f3cff","strokeWidth":1.5},
 "encoding":{
  "x":{"field":"t1","type":"quantitative","scale":{"domain":[-1.416,76.77],"nice":false,"zero":false},"axis":null},
  "x2":{"field":"t2"},
  "y":{"field":"p1","type":"quantitative","scale":{"domain":[1.01554,1.27789],"nice":false,"zero":false},"axis":null},
  "y2":{"field":"p2"}}},
{"data":{"name":"RL"},"mark":{"type":"rule","strokeDash":[1,1],"strokeWidth":1,"x2Offset":15,"yOffset":3.5},
 "encoding":{
  "x":{"field":"t","type":"quantitative","scale":{"domain":[-1.416,76.77],"nice":false,"zero":false},"axis":null},
  "x2":{"field":"t"},
  "y":{"field":"p","type":"quantitative","scale":{"domain":[1.01554,1.27789],"nice":false,"zero":false},"axis":null},
  "color":{"condition":{"test":"datum.k=='t'","value":"#1f9e9e"},"value":"#ff3a22"}}},
{"data":{"name":"RL"},"mark":{"type":"text","align":"left","baseline":"middle","fontSize":5.2},
 "encoding":{
  "x":{"field":"t","type":"quantitative","scale":{"domain":[-1.416,76.77],"nice":false,"zero":false},"axis":null},
  "y":{"field":"p","type":"quantitative","scale":{"domain":[1.01554,1.27789],"nice":false,"zero":false},"axis":null},
  "text":{"field":"s"},
  "color":{"condition":{"test":"datum.k=='t'","value":"#22a8a8"},"value":"#ff3a22"}}},
{"data":{"name":"RT"},"mark":{"type":"point","shape":"M-1,0L-0.78,-0.36H1V0.36H-0.78Z","size":576,"filled":true,"opacity":1,"strokeWidth":0.8},
 "encoding":{
  "x":{"datum":80.2,"type":"quantitative","scale":{"domain":[-1.416,76.77],"nice":false,"zero":false},"axis":null},
  "y":{"field":"p","type":"quantitative","scale":{"domain":[1.01554,1.27789],"nice":false,"zero":false},"axis":null},
  "fill":{"condition":[{"test":"datum.k=='p'","value":"#f050f0"},{"test":"datum.k=='r'","value":"#ff3010"}],"value":"#000000"},
  "stroke":{"condition":[{"test":"datum.k=='p'","value":"#f050f0"},{"test":"datum.k=='r'","value":"#ff3010"}],"value":"#d8d8d8"}}},
{"data":{"name":"RT"},"mark":{"type":"text","align":"center","baseline":"middle","fontSize":5.5,"color":"#ffffff","dx":1},
 "encoding":{
  "x":{"datum":80.2,"type":"quantitative","scale":{"domain":[-1.416,76.77],"nice":false,"zero":false},"axis":null},
  "y":{"field":"p","type":"quantitative","scale":{"domain":[1.01554,1.27789],"nice":false,"zero":false},"axis":null},
  "text":{"field":"s"}}},
{"data":{"values":[{"s":"Bollinger($EURUSD (1440 Min),2,25), Bollinger($EURUSD (1440 Min),2,100), NetLines($EURUSD (1440 Min),3,5,Col"}]},
 "mark":{"type":"text","align":"left","baseline":"top","dx":1,"dy":2,"fontSize":5.1,"color":"#cfcfcf"},
 "encoding":{
  "x":{"datum":-1.416,"type":"quantitative","scale":{"domain":[-1.416,76.77],"nice":false,"zero":false},"axis":null},
  "y":{"datum":1.27789,"type":"quantitative","scale":{"domain":[1.01554,1.27789],"nice":false,"zero":false},"axis":null},
  "text":{"field":"s"}}},
{"data":{"values":[{"s":"© 2015 NinjaTrader, LLC"}]},
 "mark":{"type":"text","align":"left","baseline":"bottom","dx":1,"dy":-1,"fontSize":5.3,"color":"#bdbdbd"},
 "encoding":{
  "x":{"datum":-1.416,"type":"quantitative","scale":{"domain":[-1.416,76.77],"nice":false,"zero":false},"axis":null},
  "y":{"datum":1.01554,"type":"quantitative","scale":{"domain":[1.01554,1.27789],"nice":false,"zero":false},"axis":null},
  "text":{"field":"s"}}}
]
}
]
}
